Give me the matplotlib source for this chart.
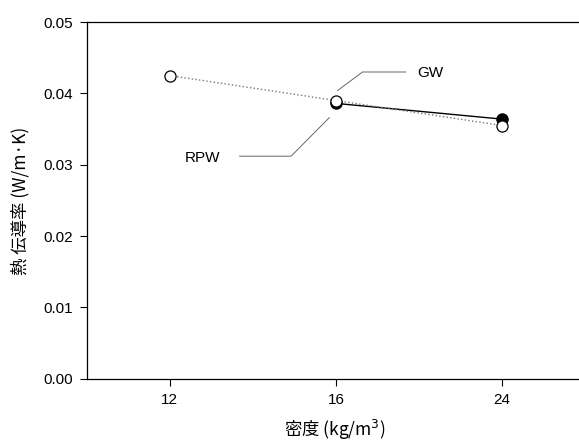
import matplotlib.pyplot as plt

plt.rcParams['font.family'] = ['Liberation Sans', 'Noto Sans CJK JP', 'DejaVu Sans']

density_labels = ['12', '16', '24']
density_pos = [1, 2, 3]

gw_pos = [1, 2, 3]
gw_k = [0.0425, 0.0390, 0.0355]

rpw_pos = [2, 3]
rpw_k = [0.0386, 0.0364]

fig = plt.figure(figsize=(5.79, 4.41), dpi=100)
ax = fig.add_axes([0.150, 0.141, 0.85, 0.809])

ax.plot(rpw_pos, rpw_k, '-', color='black', lw=1.0, marker='o', ms=8,
        mfc='black', mec='black', zorder=3)
ax.plot(gw_pos, gw_k, ':', color='#777777', lw=1.0, marker='o', ms=8,
        mfc='white', mec='black', mew=0.9, zorder=4)

# leader lines for labels
ax.plot([2.01, 2.16, 2.42], [0.0404, 0.0430, 0.0430], color='#666666', lw=0.7)
ax.text(2.49, 0.0428, 'GW', fontsize=11, va='center', ha='left')
ax.plot([1.42, 1.73, 1.96], [0.0312, 0.0312, 0.0366], color='#666666', lw=0.7)
ax.text(1.09, 0.0310, 'RPW', fontsize=11, va='center', ha='left')

ax.set_xlim(0.5, 3.464)
ax.set_ylim(0, 0.05)
ax.set_xticks(density_pos)
ax.set_xticklabels(density_labels)
ax.set_yticks([0.0, 0.01, 0.02, 0.03, 0.04, 0.05])
ax.set_yticklabels(['0.00', '0.01', '0.02', '0.03', '0.04', '0.05'])
ax.tick_params(direction='out', length=5, labelsize=11, width=0.8, pad=5)

ax.spines['right'].set_visible(False)
for s in ['left', 'top', 'bottom']:
    ax.spines[s].set_linewidth(0.9)

cjk = ['Noto Sans CJK JP', 'DejaVu Sans']
fig.text(20 / 579, 1 - 201 / 441, '熱 伝導率 (W/m·K)', fontsize=12.5, rotation=90,
         ha='center', va='center', family=cjk)
fig.text(335 / 579, 1 - 430 / 441, '密度 (kg/m$^3$)', fontsize=12.5,
         ha='center', va='center', family=cjk)

fig.savefig('out.png', dpi=100)
